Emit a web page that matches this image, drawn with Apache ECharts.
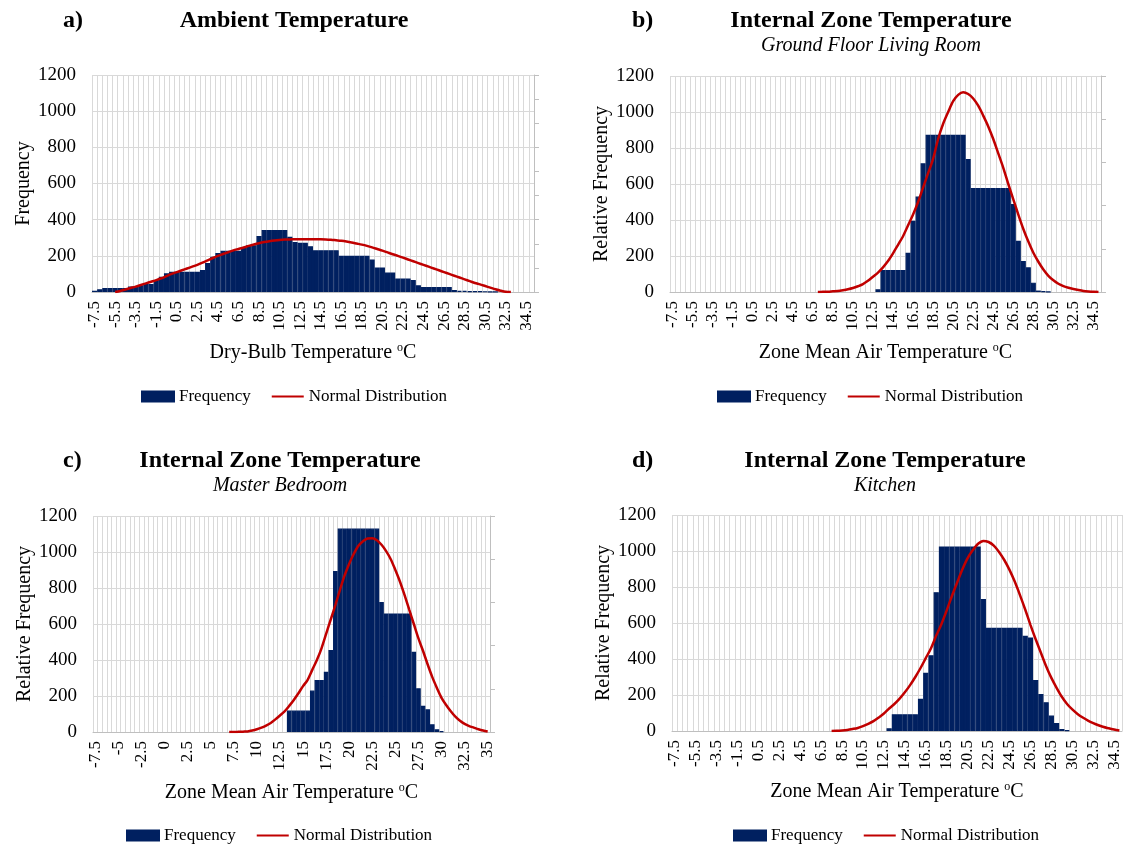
<!DOCTYPE html>
<html><head><meta charset="utf-8">
<script src="https://cdn.jsdelivr.net/npm/echarts@6/dist/echarts.min.js"></script>
<style>html,body{margin:0;padding:0;background:#fff}#c{width:1123px;height:845px}</style>
</head><body><div id="c"></div>
<script>
// Temperature categories (0.5 °C bins)
const categories = ['-7.5','-7','-6.5','-6','-5.5','-5','-4.5','-4','-3.5','-3','-2.5','-2','-1.5','-1','-0.5','0','0.5','1','1.5','2','2.5','3','3.5','4','4.5','5','5.5','6','6.5','7','7.5','8','8.5','9','9.5','10','10.5','11','11.5','12','12.5','13','13.5','14','14.5','15','15.5','16','16.5','17','17.5','18','18.5','19','19.5','20','20.5','21','21.5','22','22.5','23','23.5','24','24.5','25','25.5','26','26.5','27','27.5','28','28.5','29','29.5','30','30.5','31','31.5','32','32.5','33','33.5','34','34.5','35'];

// a) Ambient temperature
const ambientFreq = [7,15,22,22,22,22,22,30,30,37,
  44,44,66,84,103,112,112,112,112,112,
  112,121,161,195,216,228,228,228,228,245,
  259,259,310,343,343,343,343,343,305,277,
  272,272,253,231,231,231,231,231,200,200,
  200,200,200,200,180,136,136,108,108,75,
  75,75,66,37,28,28,28,28,28,28,
  11,6,6,5,5,4,3,2,1,0,
  0,0,0,0,0,0];
const ambientNormal = [null,null,null,null,
  0,6,14,22,30,39,48,57,66,76,
  88,100,110,120,130,140,150,162,175,188,
  200,210,220,230,238,246,255,263,270,276,
  281,285,288,290,291,292,292,292,292,292,
  292,291,289,286,283,279,274,268,262,255,
  247,238,229,219,209,200,190,180,170,160,
  150,140,130,120,110,100,90,80,70,60,
  50,42,33,24,15,7,1,0,
  null,null,null,null];

// b) Ground floor living room
const livingFreq = [0,0,0,0,0,0,0,0,0,0, 0,0,0,0,0,0,0,0,0,0,
  0,0,0,0,0,0,0,0,0,0, 0,0,0,0,0,0,0,0,0,0,
  0,15,122,122,122,122,122,218,396,530,
  715,874,874,874,874,874,874,874,874,739,
  578,578,578,578,578,578,578,578,489,285,
  172,137,52,8,4,2,0,0,0,0,
  0,0,0,0,0,0];
const livingNormal = [null,null,null,null,null,null,null,null,null,null,
  null,null,null,null,null,null,null,null,null,null,
  null,null,null,null,null,null,null,null,null,
  0,1,2,4,6,10,15,22,32,44,
  62,85,108,137,172,215,262,310,370,430,
  500,580,660,740,850,935,1000,1060,1095,1110,
  1100,1075,1035,980,920,850,770,690,600,515,
  430,350,280,218,168,125,90,65,46,33,
  24,17,11,6,3,1,0];

// c) Master bedroom
const bedroomFreq = [0,0,0,0,0,0,0,0,0,0, 0,0,0,0,0,0,0,0,0,0,
  0,0,0,0,0,0,0,0,0,0, 0,0,0,0,0,0,0,0,0,0,
  0,0,119,119,119,119,119,230,289,289,
  335,455,894,1130,1130,1130,1130,1130,1130,1130,
  1130,1130,722,659,659,659,659,659,659,446,
  243,146,126,43,15,4,0,0,0,0,
  0,0,0,0,0,0];
const bedroomNormal = [null,null,null,null,null,null,null,null,null,null,
  null,null,null,null,null,null,null,null,null,null,
  null,null,null,null,null,null,null,null,null,
  0,0,1,2,3,8,15,24,36,50,
  70,92,115,145,178,215,255,290,345,400,
  465,545,625,705,790,870,935,990,1035,1060,
  1075,1076,1065,1040,1005,960,900,835,760,680,
  600,520,450,375,305,245,190,150,115,85,
  62,45,33,24,15,8,3];

// d) Kitchen
const kitchenFreq = [0,0,0,0,0,0,0,0,0,0, 0,0,0,0,0,0,0,0,0,0,
  0,0,0,0,0,0,0,0,0,0, 0,0,0,0,0,0,0,0,0,0,
  0,15,93,93,93,93,93,179,324,421,
  771,1025,1025,1025,1025,1025,1025,1025,1025,734,
  574,574,574,574,574,574,574,529,520,283,
  205,160,86,45,11,4,0,0,0,0,
  0,0,0,0,0,0];
const kitchenNormal = [null,null,null,null,null,null,null,null,null,null,
  null,null,null,null,null,null,null,null,null,null,
  null,null,null,null,null,null,null,null,null,null,
  0,1,3,6,11,17,27,40,55,75,
  97,125,150,180,215,255,300,350,405,460,
  530,595,670,750,825,898,960,1005,1040,1056,
  1050,1030,995,950,895,830,755,675,590,510,
  435,360,295,240,190,150,120,95,75,58,
  44,32,22,15,8,3];

const yTicks = {min: 0, max: 1200, interval: 200};

const FONT = 'Liberation Serif';
const NAVY = '#002060', RED = '#C00000', GRID = '#d9d9d9', AXIS = '#bfbfbf';

const panels = [
  {rect:{left:92, top:75, width:442, height:217}, freq:ambientFreq, normal:ambientNormal, labelInterval:3, rightMax:9,
   yName:'Frequency', yGap:55, xName:'Dry-Bulb Temperature {s|o}C'},
  {rect:{left:670, top:76, width:431, height:216}, freq:livingFreq, normal:livingNormal, labelInterval:3, rightMax:5,
   yName:'Relative Frequency', yGap:57, xName:'Zone Mean Air Temperature {s|o}C'},
  {rect:{left:93, top:516, width:397, height:216}, freq:bedroomFreq, normal:bedroomNormal, labelInterval:4, rightMax:5,
   yName:'Relative Frequency', yGap:57, xName:'Zone Mean Air Temperature {s|o}C'},
  {rect:{left:672, top:515, width:450, height:216}, freq:kitchenFreq, normal:kitchenNormal, labelInterval:3, rightMax:null,
   yName:'Relative Frequency', yGap:57, xName:'Zone Mean Air Temperature {s|o}C'}
];

const grid = [], xAxis = [], yAxis = [], series = [];
panels.forEach((p, k) => {
  grid.push(Object.assign({containLabel:false}, p.rect));
  xAxis.push({
    type:'category', gridIndex:k, data:categories, boundaryGap:true, z:0,
    axisLine:{show:true, lineStyle:{color:AXIS, width:1}},
    axisTick:{show:false},
    axisLabel:{interval:p.labelInterval, rotate:90, fontFamily:FONT, fontSize:17, color:'#000', margin:9, padding:[5,0,0,0]},
    splitLine:{show:true, interval:0, lineStyle:{color:GRID, width:1}},
    name:p.xName, nameLocation:'middle', nameGap:50,
    nameTextStyle:{fontFamily:FONT, fontSize:20, color:'#000', lineHeight:22,
      rich:{s:{fontFamily:FONT, fontSize:12, color:'#000', verticalAlign:'top', lineHeight:22}}}
  });
  const leftIdx = yAxis.length;
  yAxis.push({
    type:'value', gridIndex:k, min:yTicks.min, max:yTicks.max, interval:yTicks.interval, z:0,
    axisLine:{show:false}, axisTick:{show:false},
    axisLabel:{fontFamily:FONT, fontSize:19, color:'#000', margin:16, formatter:(v) => String(v)},
    splitLine:{show:true, lineStyle:{color:GRID, width:1}},
    name:p.yName, nameLocation:'middle', nameGap:p.yGap,
    nameTextStyle:{fontFamily:FONT, fontSize:20, color:'#000'}
  });
  if (p.rightMax) {
    yAxis.push({
      type:'value', gridIndex:k, position:'right', min:0, max:p.rightMax, interval:1,
      axisLine:{show:true, lineStyle:{color:AXIS, width:1}},
      axisTick:{show:true, length:5, lineStyle:{color:AXIS}},
      axisLabel:{show:false}, splitLine:{show:false}
    });
  }
  // empty bins (0) are simply not drawn, so the bar outline never shows on the baseline
  series.push({
    name:'Frequency', type:'bar', xAxisIndex:k, yAxisIndex:leftIdx, z:5,
    data:p.freq.map(v => (v === 0 ? null : v)),
    barCategoryGap:'0%', itemStyle:{color:NAVY, borderColor:NAVY, borderWidth:1.2},
    silent:true, animation:false
  });
  series.push({
    name:'Normal Distribution', type:'line', xAxisIndex:k, yAxisIndex:leftIdx, z:6, data:p.normal,
    symbol:'none', smooth:0.3, lineStyle:{color:RED, width:2.5}, itemStyle:{color:RED},
    silent:true, animation:false
  });
});

const titleStyle = {fontFamily:FONT, fontWeight:'bold', fontSize:24, color:'#000'};
const subStyle = {fontFamily:FONT, fontStyle:'italic', fontSize:20, color:'#000'};
const title = [
  {text:'a)', left:58, top:4, textStyle:titleStyle},
  {text:'Ambient Temperature', left:289, top:4, textAlign:'center', textStyle:titleStyle},
  {text:'b)', left:627, top:4, textStyle:titleStyle},
  {text:'Internal Zone Temperature', subtext:'Ground Floor Living Room', left:866, top:4, textAlign:'center', itemGap:3, textStyle:titleStyle, subtextStyle:subStyle},
  {text:'c)', left:58, top:444, textStyle:titleStyle},
  {text:'Internal Zone Temperature', subtext:'Master Bedroom', left:275, top:444, textAlign:'center', itemGap:3, textStyle:titleStyle, subtextStyle:subStyle},
  {text:'d)', left:627, top:444, textStyle:titleStyle},
  {text:'Internal Zone Temperature', subtext:'Kitchen', left:880, top:444, textAlign:'center', itemGap:3, textStyle:titleStyle, subtextStyle:subStyle}
];

const legendNames = ['Frequency','Normal Distribution'];
const legendData = [
  {name:legendNames[0], icon:'rect'},
  {name:legendNames[1], itemStyle:{opacity:0}}
];
const legendBase = {data:legendData, itemWidth:32, itemHeight:10, itemGap:20, padding:0, selectedMode:false,
  textStyle:{fontFamily:FONT, fontSize:17, color:'#000'}};
const legend = [
  Object.assign({left:141, top:388}, legendBase),
  Object.assign({left:717, top:388}, legendBase),
  Object.assign({left:126, top:827}, legendBase),
  Object.assign({left:733, top:827}, legendBase)
];

const chart = echarts.init(document.getElementById('c'), null, {renderer:'canvas'});
chart.setOption({backgroundColor:'#fff', animation:false, title, legend, grid, xAxis, yAxis, series});
</script>
</body></html>
